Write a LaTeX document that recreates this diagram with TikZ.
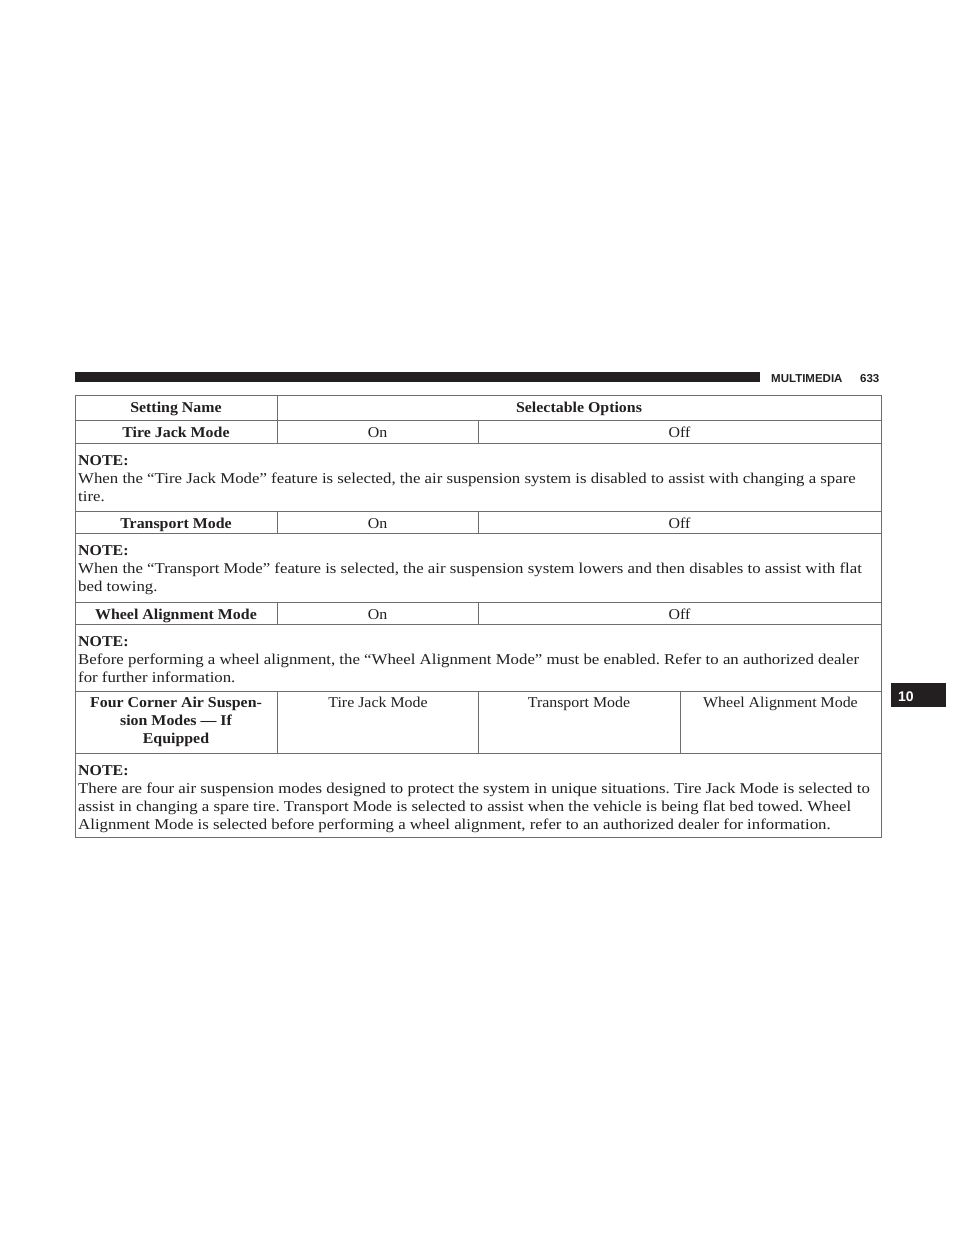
\documentclass[tikz,border=0pt]{standalone}
\usepackage{fontspec}
\setmainfont{Liberation Serif}[FakeStretch=1.06]
\newfontfamily\notefont{Liberation Serif}[FakeStretch=1.12]
\newfontfamily\hdrfont{Liberation Sans}
\frenchspacing
\definecolor{ink}{HTML}{231F20}
\definecolor{rulec}{HTML}{6E6E6E}
\tikzset{
  txt/.style={font=\fontsize{15}{18}\selectfont, text=ink, inner sep=0pt},
  btxt/.style={font=\fontsize{15}{18}\selectfont\bfseries, text=ink, inner sep=0pt},
  ntxt/.style={font=\notefont\fontsize{15}{18}\selectfont, text=ink, inner sep=0pt},
  gridline/.style={draw=rulec, line width=1pt},
  hdr/.style={font=\hdrfont\bfseries\fontsize{11.5}{13}\selectfont, text=ink, inner sep=0pt}
}
\begin{document}
\begin{tikzpicture}[x=1pt,y=-1pt]
\useasboundingbox[fill=white] (0,0) rectangle (960,1242);
% running head
\fill[ink] (75,372) rectangle (760,382);
\node[hdr, anchor=base west] (head) at (771,382) {MULTIMEDIA};
\node[hdr, anchor=base west] (page) at (860,382) {633};
% chapter tab
\node[fill=ink, minimum width=55pt, minimum height=24pt, inner sep=0pt, anchor=north west] (tab) at (891,683) {};
\node[hdr, text=white, font=\hdrfont\bfseries\fontsize{14}{16}\selectfont, anchor=base west] (tabnum) at (898,701) {10};
% table grid
\draw[gridline] (75,395) rectangle (881,837);
\foreach \yy in {420,443,511,533,602,624,691,753}
  \draw[gridline] (75,\yy) -- (881,\yy);
\draw[gridline] (277,395) -- (277,443);
\draw[gridline] (478,420) -- (478,443);
\foreach \ya/\yb in {511/533,602/624,691/753}{
  \draw[gridline] (277,\ya) -- (277,\yb);
  \draw[gridline] (478,\ya) -- (478,\yb);
}
\draw[gridline] (680,691) -- (680,753);
% header row
\node[btxt, anchor=base] (h1) at (176,412) {Setting Name};
\node[btxt, anchor=base] (h2) at (579,412) {Selectable Options};
% tire jack row
\node[btxt, anchor=base] (r1) at (176,437) {Tire Jack Mode};
\node[txt, anchor=base] (r1on) at (377.5,437) {On};
\node[txt, anchor=base] (r1off) at (679.5,437) {Off};
\node[btxt, anchor=base west] (n1a) at (78,465) {NOTE:};
\node[ntxt, anchor=base west] (n1b) at (78,483) {When the “Tire Jack Mode” feature is selected, the air suspension system is disabled to assist with changing a spare};
\node[ntxt, anchor=base west] (n1c) at (78,501) {tire.};
% transport row
\node[btxt, anchor=base] (r2) at (176,528) {Transport Mode};
\node[txt, anchor=base] (r2on) at (377.5,528) {On};
\node[txt, anchor=base] (r2off) at (679.5,528) {Off};
\node[btxt, anchor=base west] (n2a) at (78,555) {NOTE:};
\node[ntxt, anchor=base west] (n2b) at (78,573) {When the “Transport Mode” feature is selected, the air suspension system lowers and then disables to assist with flat};
\node[ntxt, anchor=base west] (n2c) at (78,591) {bed towing.};
% wheel alignment row
\node[btxt, anchor=base] (r3) at (176,619) {Wheel Alignment Mode};
\node[txt, anchor=base] (r3on) at (377.5,619) {On};
\node[txt, anchor=base] (r3off) at (679.5,619) {Off};
\node[btxt, anchor=base west] (n3a) at (78,646) {NOTE:};
\node[ntxt, anchor=base west] (n3b) at (78,664) {Before performing a wheel alignment, the “Wheel Alignment Mode” must be enabled. Refer to an authorized dealer};
\node[ntxt, anchor=base west] (n3c) at (78,682) {for further information.};
% four corner row
\node[btxt, anchor=base] (r4a) at (176,707) {Four Corner Air Suspen-};
\node[btxt, anchor=base] (r4b) at (176,725) {sion Modes — If};
\node[btxt, anchor=base] (r4c) at (176,743) {Equipped};
\node[txt, anchor=base] (r4o1) at (378,707) {Tire Jack Mode};
\node[txt, anchor=base] (r4o2) at (579,707) {Transport Mode};
\node[txt, anchor=base] (r4o3) at (780.5,707) {Wheel Alignment Mode};
\node[btxt, anchor=base west] (n4a) at (78,775) {NOTE:};
\node[ntxt, anchor=base west] (n4b) at (78,793) {There are four air suspension modes designed to protect the system in unique situations. Tire Jack Mode is selected to};
\node[ntxt, anchor=base west] (n4c) at (78,811) {assist in changing a spare tire. Transport Mode is selected to assist when the vehicle is being flat bed towed. Wheel};
\node[ntxt, anchor=base west] (n4d) at (78,829) {Alignment Mode is selected before performing a wheel alignment, refer to an authorized dealer for information.};
\end{tikzpicture}
\end{document}
